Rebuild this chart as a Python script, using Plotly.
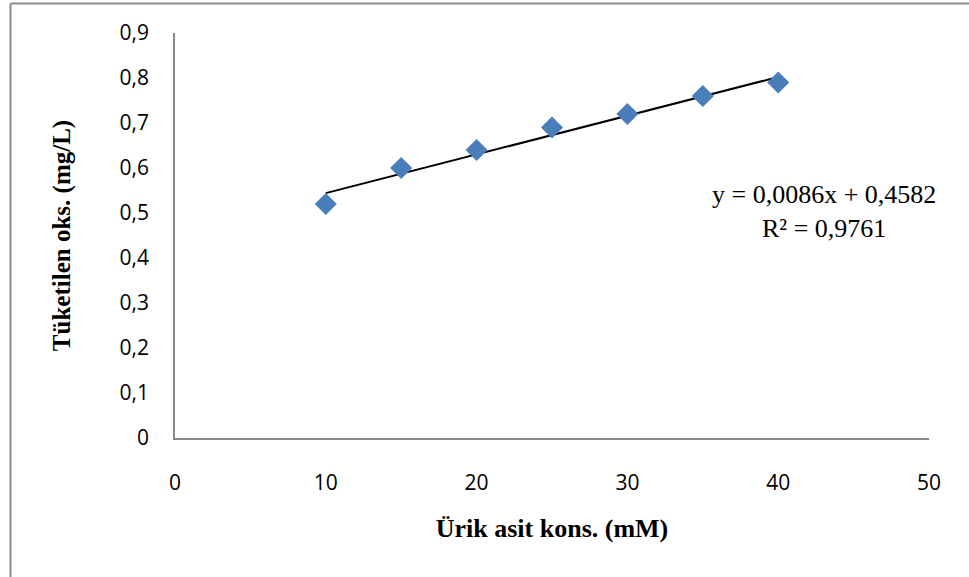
import plotly.graph_objects as go

x_vals = [10, 15, 20, 25, 30, 35, 40]
y_vals = [0.52, 0.60, 0.64, 0.69, 0.72, 0.76, 0.79]
slope = 0.0086
intercept = 0.4582
r2 = 0.9761
x_ticks = [0, 10, 20, 30, 40, 50]
y_ticks = [0, 0.1, 0.2, 0.3, 0.4, 0.5, 0.6, 0.7, 0.8, 0.9]
y_tick_text = ["0", "0,1", "0,2", "0,3", "0,4", "0,5", "0,6", "0,7", "0,8", "0,9"]

trend_x = [min(x_vals), max(x_vals)]
trend_y = [slope * v + intercept for v in trend_x]

fig = go.Figure()
fig.add_trace(go.Scatter(x=trend_x, y=trend_y, mode="lines",
                         line=dict(color="black", width=2), showlegend=False, hoverinfo="skip"))
fig.add_trace(go.Scatter(x=x_vals, y=y_vals, mode="markers",
                         marker=dict(symbol="diamond", size=17, color="#4a7ebb"),
                         showlegend=False))

W, H = 969, 577
L, R, T, B = 175, 40, 33, 139
pw, ph = W - L - R, H - T - B

def px_x(p):
    return (p - L) / pw

def px_y(p):
    return (H - B - p) / ph

eq_text = "y = 0,0086x + 0,4582<br>R² = 0,9761"

fig.update_layout(
    width=W, height=H,
    margin=dict(l=L, r=R, t=T, b=B),
    plot_bgcolor="white", paper_bgcolor="white",
    xaxis=dict(range=[0, 50], tickvals=x_ticks, ticktext=[str(v) for v in x_ticks],
               showgrid=False, zeroline=False, showline=True, linecolor="#888888", linewidth=1.5,
               ticks="outside", ticklen=25, tickcolor="rgba(0,0,0,0)",
               tickfont=dict(family="Open Sans", size=21, color="black"),
               title=dict(text="<b>Ürik asit kons. (mM)</b>", standoff=24,
                          font=dict(family="Liberation Serif", size=26, color="black"))),
    yaxis=dict(range=[0, 0.9], tickvals=y_ticks, ticktext=y_tick_text,
               showgrid=False, zeroline=False, showline=True, linecolor="#888888", linewidth=1.5,
               ticks="outside", ticklen=20, tickcolor="rgba(0,0,0,0)",
               tickfont=dict(family="Open Sans", size=21, color="black"),
               title=dict(text="<b>Tüketilen oks. (mg/L)</b>", standoff=42,
                          font=dict(family="Liberation Serif", size=25, color="black"))),
    annotations=[
        dict(x=px_x(824), y=px_y(211), xref="paper", yref="paper", showarrow=False,
             xanchor="center", yanchor="middle",
             text=eq_text, align="center",
             font=dict(family="Liberation Serif", size=26, color="black")),
    ],
    shapes=[
        dict(type="line", xref="paper", yref="paper", x0=px_x(10.5), x1=px_x(10.5),
             y0=px_y(3.5), y1=px_y(580), line=dict(color="#8c8c8c", width=2)),
        dict(type="line", xref="paper", yref="paper", x0=px_x(10.5), x1=px_x(975),
             y0=px_y(3.5), y1=px_y(3.5), line=dict(color="#8c8c8c", width=2)),
    ],
)

fig.write_html("out.html", config={"displayModeBar": False},
               post_script="document.body.style.margin='0';document.body.style.padding='0';")
